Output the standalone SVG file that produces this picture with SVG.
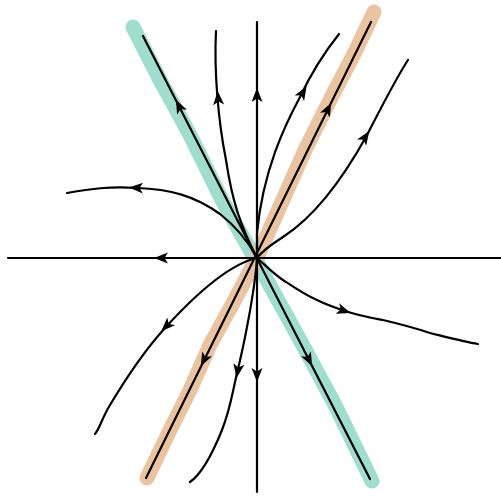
<svg xmlns="http://www.w3.org/2000/svg" width="501" height="498" viewBox="0 0 501 498">
<defs>
<marker id="ah" markerWidth="16" markerHeight="12" refX="8" refY="5.5" orient="auto" markerUnits="userSpaceOnUse">
<path d="M0,0 L14,5.5 L0,11 L3.5,5.5 z" fill="#000"/>
</marker>
</defs>
<style>
.band{fill:none;stroke-width:15;stroke-linecap:round;stroke-linejoin:round}
.teal{stroke:#9fddcf}
.orange{stroke:#e8bf98;opacity:0.92}
.ln{fill:none;stroke:#000;stroke-width:2.2;stroke-linecap:round;stroke-linejoin:round}
.arr{fill:none;stroke:none;marker-end:url(#ah)}
</style>
<rect width="501" height="498" fill="#fff"/>
<g id="bands">
<path class="band teal" d="M133,27 L160,80 L190,135 L222,200 L257,262 L300,340 L335,405 L372,481"/>
<path class="band orange" d="M374,12 L355,52 L330,100 L305,150 L285,195 L257,258 L232,305 L210,345 L190,390 L170,430 L147,478"/>
</g>
<g id="connectors">
<path class="ln" d="M8,258 L501,258"/>
<path class="ln" d="M257,22 L257,492"/>
<path class="ln" d="M143,36 L370,479"/>
<path class="ln" d="M371,22 L146,478"/>
<path class="ln" d="M216,31 C214,70 218,120 226,160 C232,200 240,225 257,258"/>
<path class="ln" d="M339,34 C320,58 308,80 300,97 C285,125 263,170 257,233 L257,258"/>
<path class="ln" d="M408,60 C395,80 380,110 367,135 C345,175 317,215 283,237 C272,244 263,250 257,258"/>
<path class="ln" d="M67,193 C90,189 110,186 137,188 C170,189 195,196 220,214 C238,228 250,245 257,258"/>
<path class="ln" d="M257,258 C230,264 195,295 165,328 C145,350 125,380 110,405 C102,418 100,428 95,434"/>
<path class="ln" d="M257,258 C255,290 244,345 237,373 C232,395 230,410 222,430 C212,455 200,475 190,482"/>
<path class="ln" d="M257,258 C265,265 275,275 283,280 C295,288 305,295 317,300 C327,305 336,308 345,311 C360,316 372,318 383,320 C400,324 415,328 430,333 C450,338 465,342 478,344"/>
<path class="arr" d="M163,258 L160,258"/>
<path class="arr" d="M257,97 L257,94"/>
<path class="arr" d="M257,373 L257,376"/>
<path class="arr" d="M180,108 L178.5,105"/>
<path class="arr" d="M308,358 L309.5,361"/>
<path class="arr" d="M327,111 L328.5,108"/>
<path class="arr" d="M205,358 L203.5,361"/>
<path class="arr" d="M218.3,100 L218.1,97"/>
<path class="arr" d="M302,94 L303.5,91.5"/>
<path class="arr" d="M364,139 L366,136"/>
<path class="arr" d="M138,187.9 L135,187.8"/>
<path class="arr" d="M168,324.5 L165.5,327"/>
<path class="arr" d="M238,369 L237.5,372"/>
<path class="arr" d="M342,310 L345,311"/>
</g>
</svg>
